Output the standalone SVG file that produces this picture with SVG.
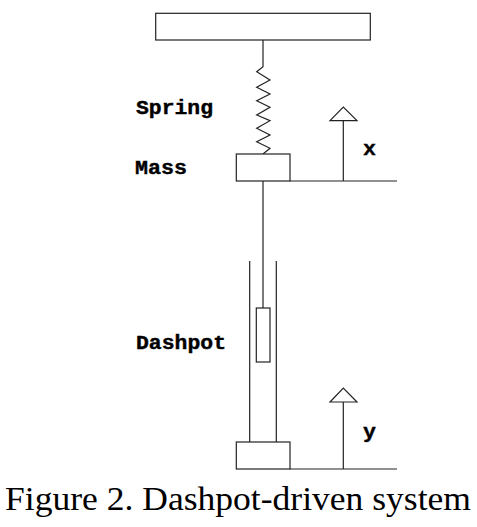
<svg xmlns="http://www.w3.org/2000/svg" width="477" height="527" viewBox="0 0 477 527">
<style>
.s{fill:#fff;stroke:#222;stroke-width:1.2}
.l{fill:none;stroke:#222;stroke-width:1.2}
.t{font-family:"Liberation Mono",monospace;font-weight:bold;font-size:20px;fill:#000;stroke:#000;stroke-width:.4}
.c{font-family:"Liberation Serif",serif;font-size:33px;fill:#000}
</style>
<rect width="477" height="527" fill="#fff"/>
<g id="connectors">
<path class="l" d="M263 40V66.700L256.700 71.700L270 80L256.700 87.300L270 94L256.700 100.700L270 107.300L256.700 115L270 120.700L256.700 128.300L270 135L256.700 141.700L270 148.300L263 154"/>
<path class="l" d="M263 181V308"/>
<path class="l" d="M290 181H397M343.300 181V120.700"/>
<path class="l" d="M290 469H397M343.300 469V402"/>
<path class="l" d="M249.700 261V442M276.300 261V442"/>
</g>
<g id="support"><rect class="s" x="155.700" y="13.300" width="214.600" height="26.700"/></g>
<g id="mass"><rect class="s" x="236.300" y="154" width="53.700" height="27"/></g>
<g id="piston"><rect class="s" x="256.300" y="308" width="13.700" height="54"/></g>
<g id="base"><rect class="s" x="236.300" y="442" width="53.700" height="27"/></g>
<g id="arrow-x"><path class="s" d="M330 120.700L343.300 107L357 120.700Z"/></g>
<g id="arrow-y"><path class="s" d="M330 402L343.300 388L357 402Z"/></g>
<g id="labels">
<text class="t" x="136" y="114" textLength="77" lengthAdjust="spacingAndGlyphs">Spring</text>
<text class="t" x="135" y="174" textLength="52" lengthAdjust="spacingAndGlyphs">Mass</text>
<text class="t" x="136" y="349" textLength="90" lengthAdjust="spacingAndGlyphs">Dashpot</text>
<text class="t" x="363" y="155" textLength="13" lengthAdjust="spacingAndGlyphs">x</text>
<text class="t" x="363" y="438" textLength="13" lengthAdjust="spacingAndGlyphs">y</text>
<text class="c" x="5" y="510" textLength="466" lengthAdjust="spacingAndGlyphs">Figure 2. Dashpot-driven system</text>
</g>
</svg>
